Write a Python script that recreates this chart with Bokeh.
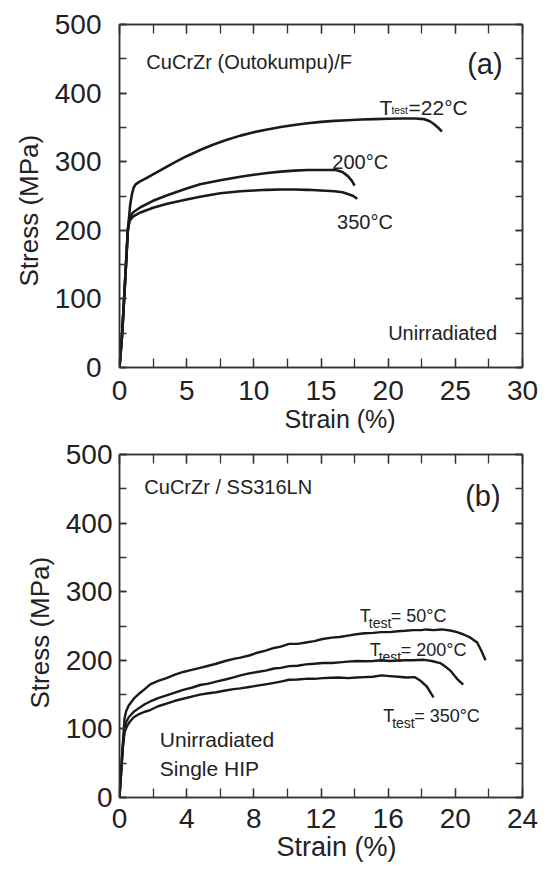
import math
from bokeh.plotting import figure
from bokeh.models import Range1d, LinearAxis, SingleIntervalTicker, Label, Title
from bokeh.layouts import column
from bokeh.embed import file_html
from bokeh.resources import INLINE

FONT = "Liberation Sans"
INK = "#1a1a1a"
TXT = "#222222"

# ---------------- panel (a) data ----------------
a_strain_22 = [0, 0.2, 0.42, 0.62, 0.8, 0.93, 1.05, 1.2, 1.5, 2, 3, 4, 5, 6, 7, 8, 9, 10, 11, 12,
               13, 14, 15, 16, 17, 18, 19, 20, 21, 22, 22.7, 23.1, 23.4, 23.7, 24.0]
a_stress_22 = [0, 50, 127, 200, 238, 253, 262, 267, 271, 276, 287, 298, 308, 317, 325, 332, 338, 343, 347, 350.5,
               353.5, 356, 358, 359.5, 360.5, 361.5, 362, 362.5, 363, 363, 362, 359, 355, 350, 344]
a_strain_200 = [0, 0.2, 0.42, 0.62, 0.77, 1.0, 1.56, 2.5, 3.55, 5, 6, 7.5, 9, 10, 11, 12, 13, 14, 15,
                16.1, 16.6, 17.0, 17.3, 17.5]
a_stress_200 = [0, 50, 127, 200, 219, 226, 233.6, 243, 251, 261, 267, 273, 278, 281, 283.5, 285.5, 287, 288, 288,
                288, 285, 279, 272, 265]
a_strain_350 = [0, 0.2, 0.42, 0.62, 0.75, 1.0, 1.56, 2.5, 3.55, 5, 6, 7.5, 9, 10, 11, 12, 13, 14, 15, 16,
                16.6, 17.0, 17.4, 17.7]
a_stress_350 = [0, 50, 127, 200, 214, 220, 226, 233, 238.6, 245, 249, 254, 257, 258, 259, 259.5, 259.5, 259, 258, 257,
                255.5, 253, 250, 246]

# ---------------- panel (b) data ----------------
b_strain_50 = [0, 0.1, 0.2, 0.3, 0.4, 0.55, 0.85, 1.2, 1.5, 1.83, 2.3, 2.8, 3.3, 3.79, 4.3, 4.8, 5.3, 5.76,
               6.3, 6.8, 7.2, 7.72, 8.2, 8.7, 9.2, 9.6, 10.1, 10.6, 11.1, 11.6, 12.1, 12.64, 13.1, 13.6, 14.1,
               14.6, 15.1, 15.6, 16.1, 16.57, 17.0, 17.5, 18.0, 18.24, 18.7, 19.2, 19.7, 20.1, 20.5, 20.9,
               21.3, 21.55, 21.8]
b_stress_50 = [0, 40, 80, 115, 126, 134, 144, 152, 158, 165, 170, 174, 179, 183, 186, 189, 192, 195,
               199, 202, 204, 207, 211, 214, 218, 220, 224, 224, 226, 228, 231, 233, 234, 236, 238,
               239.5, 240, 241, 241, 242.4, 243, 244, 244, 245, 244, 245, 243.4, 241, 237.6, 233,
               226, 214, 200]
b_strain_200 = [0, 0.1, 0.2, 0.3, 0.4, 0.55, 0.85, 1.2, 1.5, 1.83, 2.3, 2.8, 3.3, 3.79, 4.3, 4.8, 5.3, 5.76,
                6.3, 6.8, 7.2, 7.72, 8.2, 8.7, 9.2, 9.6, 10.1, 10.6, 11.1, 11.6, 12.1, 12.64, 13.1, 13.6,
                14.1, 14.6, 15.1, 15.6, 16.1, 16.57, 17.0, 17.5, 18.14, 18.6, 19.1, 19.4, 19.7, 20.1, 20.47]
b_stress_200 = [0, 38, 75, 100, 110, 117, 125, 131, 136, 140, 145, 149, 153, 157, 160, 164, 166, 169,
                172, 175, 178, 181, 183, 185, 188, 189, 191.5, 192, 194, 195, 196, 196, 197, 198,
                199, 198.7, 199, 200, 199, 199.7, 200, 200, 200.7, 199, 196, 191, 185, 173, 164.7]
b_strain_350 = [0, 0.1, 0.2, 0.3, 0.45, 0.6, 0.85, 1.2, 1.5, 1.83, 2.3, 2.8, 3.3, 3.79, 4.3, 4.8, 5.3, 5.76,
                6.3, 6.8, 7.2, 7.72, 8.2, 8.7, 9.2, 9.6, 10.1, 10.6, 11.1, 11.6, 12.1, 12.64, 13.1, 13.6,
                14.1, 14.6, 15.1, 15.6, 16.1, 16.6, 17.1, 17.6, 17.9, 18.3, 18.5, 18.7]
b_stress_350 = [0, 36, 72, 95, 104, 110, 117, 122, 125, 127.5, 133, 137, 141, 144, 147, 150, 152, 153.5,
                156, 158, 159, 161, 163, 165, 167, 169, 171.6, 172, 173, 173, 174, 174.5, 175, 174,
                175, 175.4, 176, 178, 177, 176, 175, 175.4, 170.6, 161.8, 154, 146]

a_xticks_interval = 5
b_xticks_interval = 4
y_ticks_interval = 100


def make_fig(height, border_top, border_bottom, border_right, xmax, xint, ylab_standoff, xlab_standoff):
    p = figure(width=546, height=height, output_backend="svg", toolbar_location=None,
               x_range=Range1d(0, xmax), y_range=Range1d(0, 500),
               min_border_left=119, min_border_right=border_right,
               min_border_top=border_top, min_border_bottom=border_bottom)
    p.grid.visible = False
    p.outline_line_color = "#333333"
    p.outline_line_width = 1.5
    p.background_fill_color = "white"
    p.border_fill_color = "white"
    p.add_layout(LinearAxis(), "above")
    p.add_layout(LinearAxis(), "right")
    for ax in p.xaxis:
        ax.ticker = SingleIntervalTicker(interval=xint, num_minor_ticks=2)
        ax.major_tick_in = 9
        ax.minor_tick_in = 9
    for ax in p.yaxis:
        ax.ticker = SingleIntervalTicker(interval=y_ticks_interval, num_minor_ticks=2)
        ax.major_tick_in = 7
        ax.minor_tick_in = 7
    for ax in p.xaxis + p.yaxis:
        ax.major_tick_out = 0
        ax.minor_tick_out = 0
        ax.axis_line_color = "#333333"
        ax.axis_line_width = 1.5
        ax.major_tick_line_color = "#333333"
        ax.minor_tick_line_color = "#333333"
        ax.major_tick_line_width = 1.3
        ax.minor_tick_line_width = 1.3
        ax.major_label_text_font = FONT
        ax.major_label_text_font_size = "28px"
        ax.major_label_text_color = TXT
    p.below[0].major_label_standoff = xlab_standoff
    p.left[0].major_label_standoff = ylab_standoff
    for ax in (p.above[0], p.right[0]):
        ax.major_label_text_color = None
        ax.major_label_text_font_size = "1px"
        ax.major_label_standoff = 0
    return p


def lab(p, x, y, text, size, align="left", baseline="middle", xo=0, yo=0):
    p.add_layout(Label(x=x, y=y, text=text, text_font=FONT, text_font_size=size,
                       text_color=TXT, text_align=align, text_baseline=baseline,
                       x_offset=xo, y_offset=yo))


def axis_title(p, side, text, size, offset, standoff):
    p.add_layout(Title(text=text, align="left", offset=offset, standoff=standoff,
                       text_font=FONT, text_font_size=size, text_font_style="normal",
                       text_color=TXT), side)


# ---------------- figure (a) ----------------
pa = make_fig(440, 24, 73, 24, 30, a_xticks_interval, 18, 13)
pa.line(a_strain_22, a_stress_22, line_color=INK, line_width=2.6, line_join="round")
pa.line(a_strain_200, a_stress_200, line_color=INK, line_width=2.6, line_join="round")
pa.line(a_strain_350, a_stress_350, line_color=INK, line_width=2.6, line_join="round")

lab(pa, 2.0, 445, "CuCrZr (Outokumpu)/F", "20px")
lab(pa, 27.2, 442, "(a)", "29px", align="center")
lab(pa, 19.36, 378.6, "T", "21px", baseline="alphabetic")
lab(pa, 19.36, 378.6, "test", "10px", baseline="alphabetic", xo=12, yo=-3)
lab(pa, 19.36, 378.6, "=22°C", "21px", baseline="alphabetic", xo=29)
lab(pa, 15.84, 299.3, "200°C", "20px", baseline="alphabetic")
lab(pa, 16.2, 211.8, "350°C", "20px", baseline="alphabetic")
lab(pa, 20.0, 49.6, "Unirradiated", "20px")
axis_title(pa, "left", "Stress (MPa)", "26px", 81, 15)
axis_title(pa, "below", "Strain (%)", "25px", 165, 0)

# ---------------- figure (b) ----------------
pb = make_fig(430, 14, 73, 20, 24, b_xticks_interval, 7, 11)
pb.line(b_strain_50, b_stress_50, line_color=INK, line_width=2.4, line_join="round")
pb.line(b_strain_200, b_stress_200, line_color=INK, line_width=2.4, line_join="round")
pb.line(b_strain_350, b_stress_350, line_color=INK, line_width=2.4, line_join="round")

lab(pb, 1.48, 452.3, "CuCrZr / SS316LN", "20px")
lab(pb, 21.64, 440.2, "(b)", "29px", align="center")
for sx, sy, t in [(14.31, 265, "= 50°C"), (14.9, 214.3, "= 200°C"), (15.7, 119.5, "= 350°C")]:
    lab(pb, sx, sy, "T", "18px", baseline="alphabetic")
    lab(pb, sx, sy, "test", "14px", baseline="alphabetic", xo=9, yo=-7)
    lab(pb, sx, sy, t, "18px", baseline="alphabetic", xo=31)
lab(pb, 2.4, 84, "Unirradiated", "21px")
lab(pb, 2.4, 41.8, "Single HIP", "21px")
axis_title(pb, "left", "Stress (MPa)", "26px", 89, 15)
axis_title(pb, "below", "Strain (%)", "27px", 157, -2)

layout = column(pa, pb, spacing=0)
open("out.html", "w").write(file_html(layout, INLINE))
